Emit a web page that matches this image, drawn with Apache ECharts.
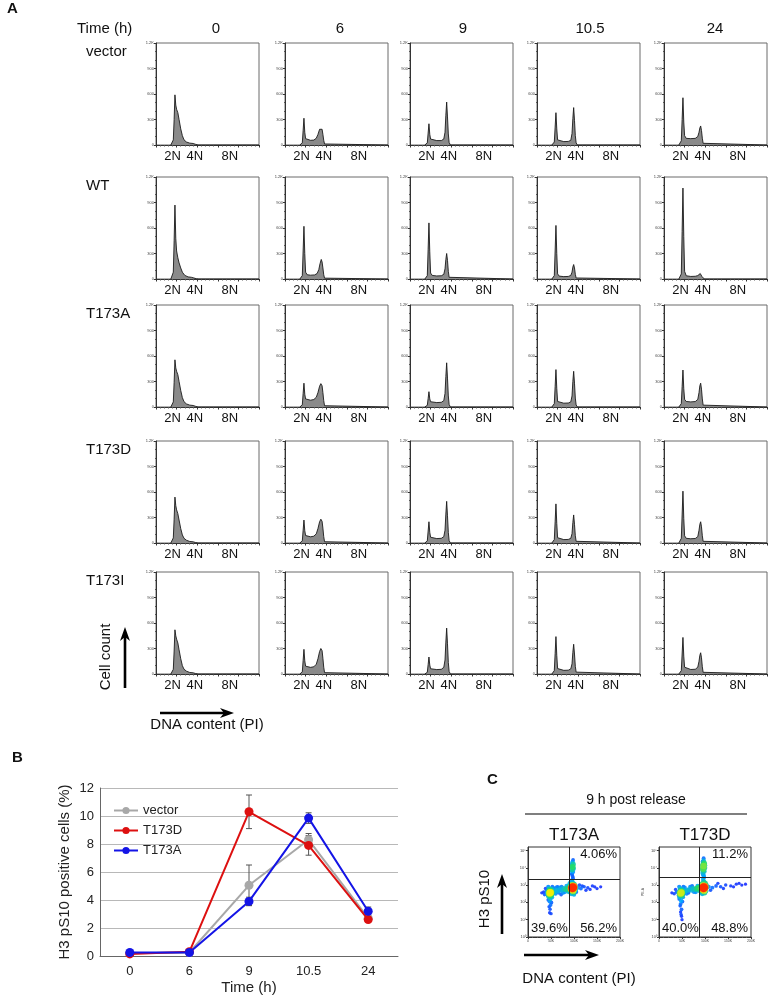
<!DOCTYPE html>
<html>
<head>
<meta charset="utf-8">
<script src="https://cdn.jsdelivr.net/npm/echarts@6/dist/echarts.min.js"></script>
<style>
  html, body { margin: 0; padding: 0; background: #fff; }
  #chart { width: 769px; height: 996px; }
</style>
</head>
<body>
<div id="chart"></div>
<script>
// ---- data ----
const timeLabels = ['0', '6', '9', '10.5', '24']
const rowNames = ['vector', 'WT', 'T173A', 'T173D', 'T173I']
const ploidyLabels = ['2N', '4N', '8N']
const ploidyPos = [40, 94, 179]

// DNA histograms, [channel (x1000), cell count], one list per time point
const histVector = [
  [[36,0],[40,8],[42,60],[44,300],[46,590],[48,470],[50,420],[53,380],[56,300],[60,190],[64,110],[68,60],[74,35],[82,22],[90,18],[96,8],[102,0],[250,0]],
  [[36,0],[40,4],[42,25],[44,170],[46,315],[48,150],[50,75],[54,58],[62,55],[70,58],[76,80],[80,125],[84,185],[87,205],[90,185],[92,125],[94,55],[96,12],[99,0],[250,0]],
  [[36,0],[40,4],[42,25],[44,140],[46,250],[48,125],[50,70],[54,55],[65,52],[76,52],[82,70],[85,150],[87,350],[89,505],[91,330],[93,130],[95,30],[98,0],[250,0]],
  [[36,0],[40,4],[42,35],[44,210],[46,380],[48,190],[50,60],[54,44],[65,40],[76,42],[82,55],[85,135],[87,310],[89,440],[91,290],[93,110],[95,25],[98,0],[250,0]],
  [[36,0],[40,6],[42,50],[44,300],[46,556],[48,270],[50,110],[54,78],[65,75],[76,78],[82,100],[85,150],[87,200],[89,224],[91,170],[93,80],[95,20],[98,0],[250,0]]
]
const histWT = [
  [[36,0],[40,8],[42,80],[44,450],[46,870],[48,480],[50,330],[53,250],[56,190],[60,130],[64,80],[70,42],[78,25],[86,20],[92,12],[98,3],[104,0],[250,0]],
  [[36,0],[40,4],[42,40],[44,330],[46,620],[48,300],[50,80],[54,50],[62,45],[72,48],[78,65],[82,110],[85,180],[88,230],[90,200],[92,130],[94,50],[96,10],[99,0],[250,0]],
  [[36,0],[40,4],[42,40],[44,350],[46,660],[48,320],[50,70],[54,42],[65,36],[76,38],[82,55],[85,120],[87,230],[89,300],[91,220],[93,90],[95,20],[98,0],[250,0]],
  [[36,0],[40,4],[42,40],[44,330],[46,630],[48,300],[50,60],[54,34],[65,28],[76,30],[82,42],[85,80],[87,140],[89,170],[91,130],[93,55],[95,12],[98,0],[250,0]],
  [[36,0],[40,6],[42,60],[44,560],[46,1070],[48,500],[50,90],[54,38],[65,30],[76,32],[82,40],[85,55],[88,64],[90,55],[92,30],[95,8],[98,0],[250,0]]
]
const histT173A = [
  [[36,0],[40,8],[42,60],[44,290],[46,555],[48,460],[50,420],[53,380],[56,300],[60,195],[64,110],[68,62],[74,36],[82,22],[90,18],[96,8],[102,0],[250,0]],
  [[36,0],[40,4],[42,25],[44,160],[46,280],[48,150],[50,95],[54,82],[62,80],[70,88],[76,115],[80,170],[84,245],[87,275],[90,250],[92,170],[94,75],[96,15],[99,0],[250,0]],
  [[36,0],[40,4],[42,20],[44,100],[46,180],[48,95],[50,62],[54,55],[65,52],[76,55],[82,75],[85,160],[87,360],[89,520],[91,340],[93,130],[95,30],[98,0],[250,0]],
  [[36,0],[40,4],[42,40],[44,240],[46,440],[48,220],[50,65],[54,48],[65,45],[76,47],[82,60],[85,130],[87,300],[89,420],[91,280],[93,105],[95,25],[98,0],[250,0]],
  [[36,0],[40,5],[42,40],[44,240],[46,435],[48,215],[50,90],[54,65],[65,60],[76,64],[82,90],[85,170],[87,250],[89,280],[91,210],[93,95],[95,22],[98,0],[250,0]]
]
const histT173D = [
  [[36,0],[40,8],[42,60],[44,280],[46,540],[48,440],[50,390],[53,345],[56,270],[60,170],[64,95],[68,55],[74,32],[82,18],[90,14],[96,6],[102,0],[250,0]],
  [[36,0],[40,4],[42,25],[44,150],[46,270],[48,145],[50,88],[54,76],[62,73],[70,80],[76,108],[80,170],[84,250],[87,280],[90,255],[92,175],[94,75],[96,15],[99,0],[250,0]],
  [[36,0],[40,4],[42,25],[44,140],[46,250],[48,125],[50,68],[54,55],[65,52],[76,55],[82,75],[85,150],[87,340],[89,490],[91,320],[93,125],[95,28],[98,0],[250,0]],
  [[36,0],[40,4],[42,40],[44,250],[46,460],[48,230],[50,62],[54,45],[65,40],[76,42],[82,55],[85,110],[87,240],[89,330],[91,220],[93,85],[95,20],[98,0],[250,0]],
  [[36,0],[40,6],[42,55],[44,330],[46,610],[48,290],[50,85],[54,55],[65,50],[76,53],[82,75],[85,150],[87,220],[89,250],[91,190],[93,85],[95,20],[98,0],[250,0]]
]
const histT173I = [
  [[36,0],[40,8],[42,55],[44,270],[46,520],[48,450],[50,410],[53,365],[56,285],[60,180],[64,98],[68,56],[74,33],[82,18],[90,14],[96,6],[102,0],[250,0]],
  [[36,0],[40,4],[42,25],[44,160],[46,290],[48,155],[50,92],[54,80],[62,78],[70,85],[76,115],[80,180],[84,265],[87,300],[90,275],[92,185],[94,80],[96,16],[99,0],[250,0]],
  [[36,0],[40,4],[42,20],[44,110],[46,200],[48,105],[50,62],[54,55],[65,52],[76,55],[82,78],[85,165],[87,375],[89,540],[91,355],[93,135],[95,30],[98,0],[250,0]],
  [[36,0],[40,4],[42,40],[44,240],[46,440],[48,220],[50,64],[54,47],[65,43],[76,45],[82,60],[85,120],[87,255],[89,350],[91,235],[93,90],[95,22],[98,0],[250,0]],
  [[36,0],[40,5],[42,40],[44,235],[46,430],[48,210],[50,80],[54,58],[65,53],[76,56],[82,80],[85,150],[87,220],[89,250],[91,190],[93,85],[95,20],[98,0],[250,0]]
]

// panel B: H3 pS10 positive cells (%)
const legendNames = ['vector', 'T173D', 'T173A']
const vectorVals = [0.2, 0.25, 5.05, 8.3, 2.7]
const vectorErr = [0.05, 0.05, 1.45, 0.45, 0.15]
const t173dVals = [0.15, 0.3, 10.3, 7.9, 2.6]
const t173dErr = [0.05, 0.05, 1.2, 0.7, 0.1]
const t173aVals = [0.25, 0.25, 3.9, 9.85, 3.2]
const t173aErr = [0.05, 0.05, 0.3, 0.38, 0.3]

// panel C: [PI (K), log10 H3 pS10, relative density]
const scatterT173A = [
  [48,2.55,0.75],[46,2.5,0.6],[50,2.6,0.6],[47,2.7,0.5],[49,2.4,0.5],[44,2.6,0.4],[52,2.5,0.4],[45,2.35,0.35],[51,2.75,0.35],[48,2.2,0.3],
  [42,2.5,0.25],[54,2.65,0.3],[47,2.05,0.2],[49,1.85,0.15],[48,1.6,0.1],[50,1.35,0.08],[40,2.65,0.15],[36,2.45,0.1],[30,2.55,0.06],
  [44,2.9,0.2],[52,2.3,0.25],[46,2.8,0.3],[50,2.45,0.45],[43,2.4,0.2],[55,2.55,0.3],[56,2.8,0.2],[53,2.9,0.15],[47,1.4,0.06],[46,1.75,0.1],
  [51,2.0,0.12],[44,2.15,0.12],[38,2.8,0.08],[34,2.6,0.06],
  [58,2.6,0.3],[62,2.7,0.3],[66,2.65,0.28],[70,2.75,0.3],[74,2.7,0.3],[78,2.8,0.35],[82,2.75,0.4],[86,2.8,0.45],[60,2.5,0.2],[68,2.85,0.2],
  [76,2.55,0.2],[84,2.95,0.25],[64,2.9,0.12],[72,2.45,0.12],[61,2.85,0.2],[67,2.55,0.15],[73,2.9,0.18],[80,2.6,0.22],[88,2.65,0.35],
  [97,2.85,1.0],[95,2.8,0.85],[99,2.9,0.85],[96,2.95,0.7],[98,2.7,0.7],[93,2.75,0.55],[101,2.8,0.55],[94,3.0,0.45],[100,3.05,0.4],[92,2.6,0.35],
  [102,2.65,0.3],[97,3.15,0.3],[90,2.9,0.45],[91,3.1,0.3],[99,2.55,0.4],[103,2.95,0.3],[104,2.75,0.25],[95,3.2,0.25],[100,2.45,0.25],[94,2.5,0.3],
  [96,3.3,0.15],[97,3.5,0.12],[95,3.65,0.15],[98,3.4,0.12],[96,3.6,0.12],[98,3.75,0.2],
  [97,4.05,0.5],[96,3.9,0.4],[98,4.2,0.4],[95,4.1,0.3],[99,3.95,0.3],[97,4.35,0.2],[96,3.8,0.25],[96,4.25,0.25],[98,4.45,0.12],
  [108,2.85,0.2],[115,2.8,0.15],[122,2.9,0.1],[130,2.85,0.08],[140,2.95,0.06],[150,2.8,0.05],[158,2.9,0.04],[112,3.0,0.1],[126,2.7,0.06],[105,2.6,0.15],
  [118,2.95,0.08],[135,2.75,0.05],[145,2.9,0.05]
]
const scatterT173D = [
  [48,2.55,0.7],[46,2.5,0.6],[50,2.6,0.55],[47,2.7,0.45],[49,2.4,0.45],[44,2.6,0.35],[52,2.5,0.35],[45,2.3,0.3],[51,2.75,0.3],[48,2.1,0.25],
  [42,2.55,0.2],[54,2.7,0.25],[47,1.9,0.15],[49,1.6,0.12],[48,1.3,0.08],[50,1.0,0.05],[38,2.6,0.12],[33,2.5,0.08],[28,2.55,0.05],
  [44,2.9,0.2],[52,2.3,0.22],[46,2.8,0.28],[50,2.45,0.42],[43,2.4,0.18],[55,2.6,0.3],[56,2.85,0.2],[53,2.9,0.15],[47,1.45,0.06],[46,1.8,0.1],
  [51,2.05,0.12],[44,2.2,0.12],[49,1.2,0.05],[36,2.75,0.07],
  [58,2.65,0.3],[62,2.7,0.32],[66,2.75,0.3],[70,2.7,0.3],[74,2.8,0.35],[78,2.75,0.35],[82,2.8,0.45],[86,2.85,0.5],[60,2.5,0.18],[68,2.9,0.2],
  [76,2.6,0.2],[84,2.95,0.25],[64,2.55,0.15],[72,2.95,0.15],[80,2.6,0.22],[88,2.7,0.4],
  [97,2.85,1.0],[95,2.8,0.85],[99,2.9,0.85],[96,2.95,0.7],[98,2.7,0.7],[93,2.75,0.55],[101,2.85,0.55],[94,3.05,0.45],[100,3.1,0.45],[92,2.6,0.35],
  [102,2.65,0.3],[97,3.2,0.35],[90,2.9,0.45],[99,2.55,0.4],[103,3.0,0.3],[94,2.5,0.3],
  [96,3.35,0.25],[97,3.55,0.25],[95,3.7,0.3],[98,3.45,0.2],[96,3.6,0.22],
  [97,4.1,0.6],[96,3.95,0.55],[98,4.25,0.5],[95,4.15,0.4],[99,4.0,0.4],[97,4.4,0.3],[96,3.85,0.4],[98,3.8,0.35],[95,4.35,0.2],[97,4.55,0.15],
  [94,3.95,0.25],[100,4.15,0.25],
  [108,2.9,0.2],[116,2.85,0.15],[124,2.95,0.12],[134,2.9,0.1],[145,3.0,0.08],[156,2.95,0.06],[168,3.05,0.05],[180,3.0,0.04],[188,3.05,0.03],[112,2.7,0.1],
  [128,3.1,0.06],[140,2.8,0.06],[162,2.9,0.04],[174,3.1,0.04]
]
const scatterTitles = ['T173A', 'T173D']
const gateX = [89, 88]
const gateY = [3.35, 3.45]
const quadT173A = ['4.06%', '39.6%', '56.2%']
const quadT173D = ['11.2%', '40.0%', '48.8%']

// ---- layout ----
const FONT = '"Liberation Sans", Arial, sans-serif'
const colLefts = [156, 285, 410, 537, 664]
const rowTops = [43, 177, 305, 441, 572]
const titleX = [216, 340, 463, 590, 715]

const grid = []
const xAxis = []
const yAxis = []
const series = []
const graphic = []

function txt (x, y, text, size, opts) {
  return Object.assign({
    type: 'text', x: x, y: y, silent: true,
    style: { text: text, fontSize: size, fontFamily: FONT, fill: '#111', align: 'center', verticalAlign: 'middle' }
  }, opts || {})
}
function ltxt (x, y, text, size, align, bold) {
  return {
    type: 'text', x: x, y: y, silent: true,
    style: { text: text, fontSize: size, fontWeight: bold ? 'bold' : 'normal', fontFamily: FONT, fill: '#111', align: align, verticalAlign: 'middle' }
  }
}
function arrow (x1, y1, x2, y2) {
  const a = Math.atan2(y2 - y1, x2 - x1)
  const L = 14
  const W = 5
  const bx = x2 - L * Math.cos(a)
  const by = y2 - L * Math.sin(a)
  const nx = -Math.sin(a)
  const ny = Math.cos(a)
  return {
    type: 'group', silent: true,
    children: [
      { type: 'line', shape: { x1: x1, y1: y1, x2: bx + 4 * Math.cos(a), y2: by + 4 * Math.sin(a) }, style: { stroke: '#000', lineWidth: 2.6 } },
      { type: 'polygon', shape: { points: [[x2, y2], [bx + nx * W, by + ny * W], [x2 - (L - 4) * Math.cos(a), y2 - (L - 4) * Math.sin(a)], [bx - nx * W, by - ny * W]] }, style: { fill: '#000' } }
    ]
  }
}

// ---- panel A: histograms ----
const histRows = [histVector, histWT, histT173A, histT173D, histT173I]
histRows.forEach((row, r) => {
  row.forEach((pts, c) => {
    const i = grid.length
    grid.push({ left: colLefts[c], top: rowTops[r], width: 103, height: 102, show: true, borderColor: '#6a6a6a', borderWidth: 1 })
    xAxis.push({
      gridIndex: i, type: 'value', min: 0, max: 250, interval: 50,
      axisLine: { onZero: false, lineStyle: { color: '#333', width: 1 } },
      axisTick: { length: 2.5, lineStyle: { color: '#333' } },
      minorTick: { show: true, splitNumber: 5, length: 1.5, lineStyle: { color: '#555' } },
      splitLine: { show: false },
      axisLabel: {
        customValues: ploidyPos,
        formatter: v => ploidyLabels[ploidyPos.indexOf(v)],
        fontSize: 13, color: '#111', margin: 5, fontFamily: FONT
      }
    })
    yAxis.push({
      gridIndex: i, type: 'value', min: 0, max: 1200, interval: 300,
      axisLine: { show: true, lineStyle: { color: '#333', width: 1 } },
      axisTick: { show: true, length: 2, lineStyle: { color: '#333' } },
      minorTick: { show: true, splitNumber: 3, length: 1, lineStyle: { color: '#555' } },
      splitLine: { show: false },
      axisLabel: { fontSize: 4, color: '#444', margin: 2, formatter: v => (v === 1200 ? '1.2K' : String(v)) }
    })
    series.push({
      type: 'line', xAxisIndex: i, yAxisIndex: i, data: pts,
      symbol: 'none', showSymbol: false, silent: true,
      lineStyle: { color: '#1a1a1a', width: 0.9 },
      areaStyle: { color: '#8a8a8a', opacity: 1 }
    })
  })
})

graphic.push(ltxt(7, 9, 'A', 15, 'left', true))
graphic.push(ltxt(77, 29, 'Time (h)', 15, 'left'))
timeLabels.forEach((t, c) => graphic.push(txt(titleX[c], 29, t, 15)))
rowNames.forEach((n, r) => graphic.push(ltxt(86, rowTops[r] + 9, n, 15, 'left')))
graphic.push(txt(106, 657, 'Cell count', 15, { rotation: Math.PI / 2 }))
graphic.push(arrow(125, 688, 125, 627))
graphic.push(arrow(160, 713, 234, 713))
graphic.push(txt(207, 725, 'DNA content (PI)', 15))

// ---- panel B: line chart ----
const bIdx = grid.length
grid.push({ left: 100, top: 788, width: 298, height: 168 })
xAxis.push({
  gridIndex: bIdx, type: 'category', data: timeLabels, boundaryGap: true,
  axisTick: { show: false },
  axisLine: { lineStyle: { color: '#666', width: 1 } },
  axisLabel: { fontSize: 13, color: '#222', margin: 9, fontFamily: FONT },
  name: 'Time (h)', nameLocation: 'middle', nameGap: 24,
  nameTextStyle: { fontSize: 15, color: '#222', fontFamily: FONT }
})
yAxis.push({
  gridIndex: bIdx, type: 'value', min: 0, max: 12, interval: 2,
  axisLine: { show: true, lineStyle: { color: '#666', width: 1 } },
  axisTick: { show: false },
  splitLine: { lineStyle: { color: '#b8b8b8', width: 1 } },
  axisLabel: { fontSize: 13, color: '#222', margin: 6, fontFamily: FONT },
  name: 'H3 pS10 positive cells (%)', nameLocation: 'middle', nameGap: 28,
  nameTextStyle: { fontSize: 15, color: '#222', fontFamily: FONT }
})
function errBars (vals, errs) {
  return {
    type: 'custom', xAxisIndex: bIdx, yAxisIndex: bIdx, silent: true, z: 1,
    data: vals.map((v, k) => [k, v - errs[k], v + errs[k]]),
    renderItem: (p, api) => {
      const lo = api.coord([api.value(0), api.value(1)])
      const hi = api.coord([api.value(0), api.value(2)])
      const st = { stroke: '#555', lineWidth: 1 }
      return {
        type: 'group',
        children: [
          { type: 'line', shape: { x1: lo[0], y1: lo[1], x2: hi[0], y2: hi[1] }, style: st },
          { type: 'line', shape: { x1: lo[0] - 3, y1: lo[1], x2: lo[0] + 3, y2: lo[1] }, style: st },
          { type: 'line', shape: { x1: hi[0] - 3, y1: hi[1], x2: hi[0] + 3, y2: hi[1] }, style: st }
        ]
      }
    }
  }
}
const bColors = ['#a8a8a8', '#dd1010', '#1414e6']
;[vectorVals, t173dVals, t173aVals].forEach((vals, k) => {
  series.push({
    name: legendNames[k], type: 'line', xAxisIndex: bIdx, yAxisIndex: bIdx, data: vals,
    symbol: 'circle', symbolSize: 9, z: 3 + k,
    itemStyle: { color: bColors[k] }, lineStyle: { color: bColors[k], width: 2 }
  })
})
series.push(errBars(vectorVals, vectorErr))
series.push(errBars(t173dVals, t173dErr))
series.push(errBars(t173aVals, t173aErr))
graphic.push(ltxt(12, 758, 'B', 15, 'left', true))

// ---- panel C: dot plots ----
const sup = ['⁰', '¹', '²', '³', '⁴', '⁵']
const scatterIdx = []
const cLefts = [528, 659]
;[scatterT173A, scatterT173D].forEach((pts, k) => {
  const i = grid.length
  grid.push({ left: cLefts[k], top: 847, width: 92, height: 90, show: true, borderColor: '#333', borderWidth: 1 })
  xAxis.push({
    gridIndex: i, type: 'value', min: 0, max: 200, interval: 50,
    axisLine: { onZero: false, lineStyle: { color: '#333' } },
    axisTick: { length: 2, lineStyle: { color: '#333' } },
    minorTick: { show: true, splitNumber: 5, length: 1, lineStyle: { color: '#555' } },
    splitLine: { show: false },
    axisLabel: { fontSize: 3.5, color: '#444', margin: 2, formatter: v => (v === 0 ? '0' : v + 'K') }
  })
  yAxis.push({
    gridIndex: i, type: 'value', min: 0, max: 5.2,
    axisLine: { show: true, lineStyle: { color: '#333' } },
    axisTick: { show: true, length: 2, customValues: [0, 1, 2, 3, 4, 5], lineStyle: { color: '#333' } },
    splitLine: { show: false },
    axisLabel: { customValues: [0, 1, 2, 3, 4, 5], fontSize: 4, color: '#444', margin: 2, formatter: v => '10' + sup[v] },
    name: k === 1 ? 'PE-A' : '', nameLocation: 'middle', nameGap: 14, nameTextStyle: { fontSize: 3.5, color: '#444' }
  })
  scatterIdx.push(series.length)
  // densest dots drawn last so the hot cores stay visible
  const ordered = pts.slice().sort((a, b) => a[2] - b[2])
  series.push({
    type: 'scatter', xAxisIndex: i, yAxisIndex: i, data: ordered, silent: true,
    symbolSize: v => 3 + v[2] * 6,
    itemStyle: { opacity: 0.9 },
    markLine: {
      silent: true, symbol: 'none', animation: false,
      label: { show: false },
      lineStyle: { color: '#222', width: 1, type: 'solid' },
      data: [{ xAxis: gateX[k] }, { yAxis: gateY[k] }]
    }
  })
  const q = k === 0 ? quadT173A : quadT173D
  const left = cLefts[k]
  graphic.push(txt(left + 46, 835, scatterTitles[k], 17))
  graphic.push(ltxt(left + 89, 854, q[0], 13, 'right'))
  graphic.push(ltxt(left + 3, 928, q[1], 13, 'left'))
  graphic.push(ltxt(left + 89, 928, q[2], 13, 'right'))
})
graphic.push(ltxt(487, 780, 'C', 15, 'left', true))
graphic.push(txt(636, 800, '9 h post release', 14))
graphic.push({ type: 'line', silent: true, shape: { x1: 525, y1: 814, x2: 747, y2: 814 }, style: { stroke: '#555', lineWidth: 1.5 } })
graphic.push(txt(485, 899, 'H3 pS10', 15, { rotation: Math.PI / 2 }))
graphic.push(arrow(502, 934, 502, 874))
graphic.push(arrow(524, 955, 599, 955))
graphic.push(txt(579, 979, 'DNA content (PI)', 15))

const chart = echarts.init(document.getElementById('chart'))
chart.setOption({
  animation: false,
  backgroundColor: '#fff',
  textStyle: { fontFamily: FONT },
  legend: {
    data: legendNames, orient: 'vertical', left: 108, top: 799,
    itemWidth: 24, itemHeight: 9, itemGap: 7,
    textStyle: { fontSize: 13, color: '#222', fontFamily: FONT }
  },
  visualMap: {
    type: 'continuous', show: false, min: 0, max: 1, dimension: 2,
    seriesIndex: scatterIdx,
    inRange: { color: ['#1a1aff', '#00a8ff', '#22dd66', '#ffee00', '#ff2000'] }
  },
  grid: grid,
  xAxis: xAxis,
  yAxis: yAxis,
  series: series,
  graphic: graphic
})
</script>
</body>
</html>
